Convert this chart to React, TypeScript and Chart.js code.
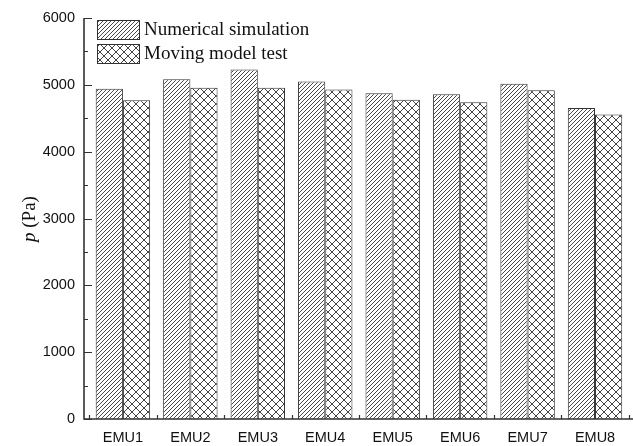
import React, { useEffect, useRef } from "react";
import { Chart, registerables } from "chart.js";

Chart.register(...registerables);

const categories = ["EMU1", "EMU2", "EMU3", "EMU4", "EMU5", "EMU6", "EMU7", "EMU8"];
const numericalSimulation = [4940, 5085, 5230, 5050, 4875, 4860, 5015, 4655];
const movingModelTest = [4770, 4955, 4955, 4930, 4775, 4740, 4920, 4555];
const seriesLabels = ["Numerical simulation", "Moving model test"];
const yTicks = [0, 1000, 2000, 3000, 4000, 5000, 6000];

function makeHatch(): CanvasPattern | string {
  const c = document.createElement("canvas");
  c.width = 4;
  c.height = 4;
  const g = c.getContext("2d");
  if (!g) return "#fff";
  g.fillStyle = "#fff";
  g.fillRect(0, 0, 4, 4);
  g.strokeStyle = "#4a4a4a";
  g.lineWidth = 1;
  g.beginPath();
  g.moveTo(0, 4);
  g.lineTo(4, 0);
  g.moveTo(-1, 1);
  g.lineTo(1, -1);
  g.moveTo(3, 5);
  g.lineTo(5, 3);
  g.stroke();
  return g.createPattern(c, "repeat") || "#fff";
}

function makeCross(): CanvasPattern | string {
  const c = document.createElement("canvas");
  c.width = 8;
  c.height = 8;
  const g = c.getContext("2d");
  if (!g) return "#fff";
  g.fillStyle = "#fff";
  g.fillRect(0, 0, 8, 8);
  g.strokeStyle = "#444";
  g.lineWidth = 1;
  g.beginPath();
  g.moveTo(0, 0);
  g.lineTo(8, 8);
  g.moveTo(0, 8);
  g.lineTo(8, 0);
  g.stroke();
  return g.createPattern(c, "repeat") || "#fff";
}

export default function App() {
  const ref = useRef<HTMLCanvasElement | null>(null);

  useEffect(() => {
    if (!ref.current) return;
    const hatch = makeHatch();
    const cross = makeCross();

    const decor = {
      id: "decor",
      afterDraw(chart: any) {
        const ctx = chart.ctx;
        const area = chart.chartArea;
        const xs = chart.scales.x;
        const ys = chart.scales.y;
        ctx.save();
        // axes
        ctx.strokeStyle = "#333";
        ctx.lineWidth = 1.6;
        ctx.beginPath();
        ctx.moveTo(area.left, ys.getPixelForValue(6000));
        ctx.lineTo(area.left, area.bottom);
        ctx.lineTo(area.right, area.bottom);
        ctx.stroke();
        // y ticks (inward)
        ctx.lineWidth = 1.2;
        ctx.beginPath();
        for (let v = 0; v <= 6000; v += 500) {
          const y = Math.round(ys.getPixelForValue(v)) + 0.5;
          const len = v % 1000 === 0 ? 8 : 4;
          ctx.moveTo(area.left, y);
          ctx.lineTo(area.left + len, y);
        }
        // x ticks at category boundaries (inward)
        for (let i = -1; i < categories.length; i++) {
          const x = Math.round(xs.getPixelForValue(i + 0.5)) + 0.5;
          ctx.moveTo(x, area.bottom);
          ctx.lineTo(x, area.bottom - 4);
        }
        ctx.stroke();

        // legend
        const datasets = chart.data.datasets;
        const bx = 97;
        const boxes = [20, 44];
        ctx.font = "19px 'Liberation Serif', 'Times New Roman', serif";
        ctx.textBaseline = "middle";
        ctx.textAlign = "left";
        datasets.forEach((ds: any, i: number) => {
          const y = boxes[i];
          ctx.fillStyle = ds.backgroundColor;
          ctx.fillRect(bx, y, 42, 19);
          ctx.strokeStyle = "#333";
          ctx.lineWidth = 1;
          ctx.strokeRect(bx + 0.5, y + 0.5, 42, 19);
          ctx.fillStyle = "#111";
          ctx.fillText(ds.label, 144, y + 10);
        });

        // y title
        ctx.translate(30, 219);
        ctx.rotate(-Math.PI / 2);
        ctx.textBaseline = "middle";
        const pFont = "italic 19px 'Liberation Serif', 'Times New Roman', serif";
        const rFont = "19px 'Liberation Serif', 'Times New Roman', serif";
        ctx.font = pFont;
        const wp = ctx.measureText("p").width;
        ctx.font = rFont;
        const wr = ctx.measureText(" (Pa)").width;
        const start = -(wp + wr) / 2;
        ctx.fillStyle = "#111";
        ctx.font = pFont;
        ctx.fillText("p", start, 0);
        ctx.font = rFont;
        ctx.fillText(" (Pa)", start + wp, 0);
        ctx.restore();
      },
    };

    const chart = new Chart(ref.current, {
      type: "bar",
      data: {
        datasets: [
          {
            label: seriesLabels[0],
            data: numericalSimulation.map((v, i) => ({ x: i, y: v })),
            backgroundColor: hatch as any,
            borderColor: "#333",
            borderWidth: 1,
            categoryPercentage: 0.807,
            barPercentage: 1,
          },
          {
            label: seriesLabels[1],
            data: movingModelTest.map((v, i) => ({ x: i, y: v })),
            backgroundColor: cross as any,
            borderColor: "#333",
            borderWidth: 1,
            categoryPercentage: 0.807,
            barPercentage: 1,
          },
        ],
      },
      options: {
        responsive: false,
        animation: false,
        layout: { padding: { top: 18, left: 0, right: 0, bottom: 0 } },
        plugins: {
          legend: { display: false },
          tooltip: { enabled: false },
        },
        scales: {
          x: {
            type: "linear",
            offset: false,
            min: -0.577,
            max: 7.563,
            grid: { display: false, drawTicks: false, offset: false },
            border: { display: false },
            afterBuildTicks: (scale: any) => {
              scale.ticks = categories.map((_, i) => ({ value: i }));
            },
            afterFit: (scale: any) => {
              scale.height = 27;
            },
            ticks: {
              autoSkip: false,
              maxRotation: 0,
              padding: 10,
              color: "#111",
              font: { family: "'Liberation Sans', Arial, sans-serif", size: 14.5 },
              callback: (v: any) => categories[Math.round(Number(v))] ?? "",
            },
          },
          y: {
            min: 0,
            max: 6000,
            grid: { display: false, drawTicks: false },
            border: { display: false },
            afterBuildTicks: (scale: any) => {
              scale.ticks = yTicks.map((v) => ({ value: v }));
            },
            afterFit: (scale: any) => {
              scale.width = 84;
            },
            ticks: {
              padding: 9,
              color: "#111",
              font: { family: "'Liberation Sans', Arial, sans-serif", size: 14.5 },
              callback: (v: any) => String(v),
            },
          },
        },
      },
      plugins: [decor],
    });
    return () => chart.destroy();
  }, []);

  return (
    <div style={{ position: "fixed", left: 0, top: 0, width: 633, height: 446, background: "#fff" }}>
      <canvas ref={ref} width={633} height={446} style={{ display: "block" }} />
    </div>
  );
}
